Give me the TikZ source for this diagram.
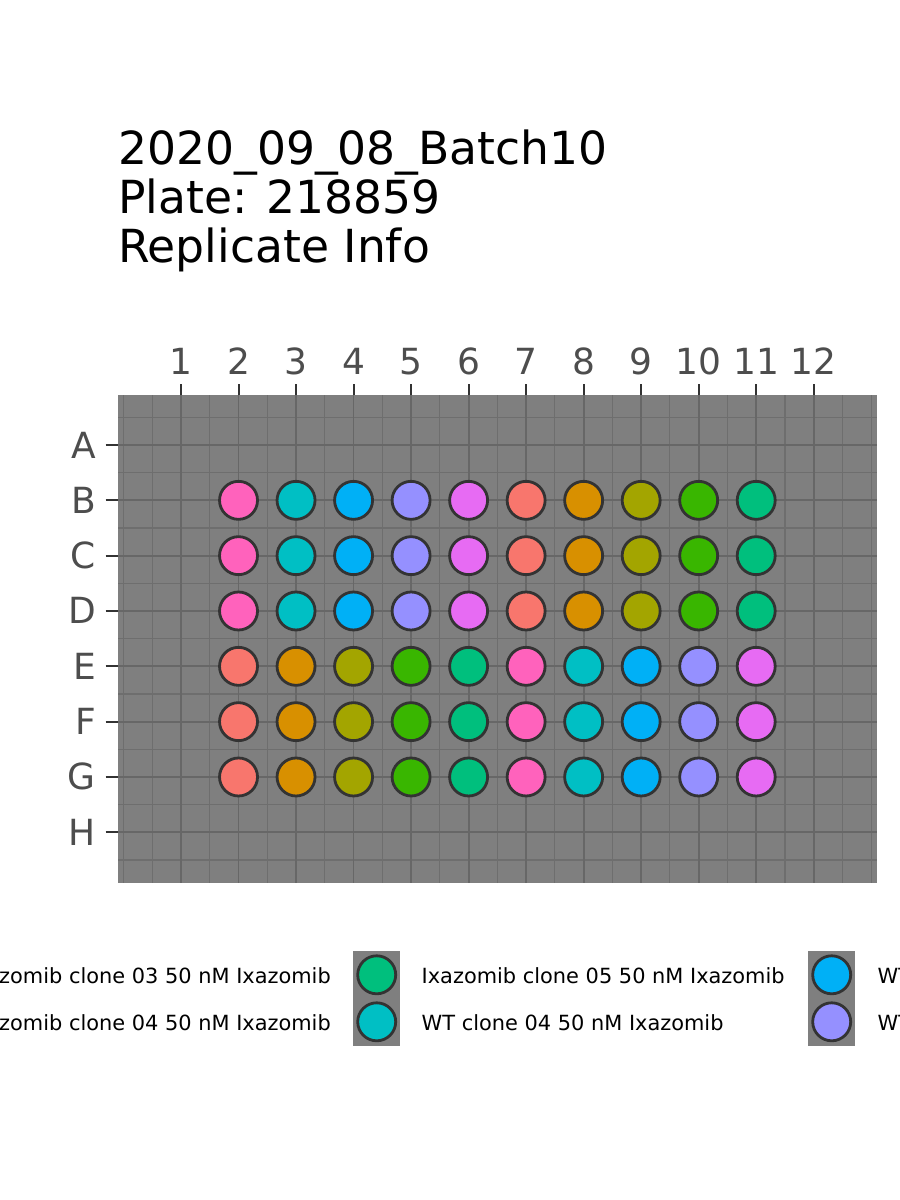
\documentclass[tikz,border=0pt]{standalone}
\usepackage{fontspec}
\setmainfont{DejaVu Sans}
\definecolor{panelc}{HTML}{7F7F7F}
\definecolor{majc}{HTML}{676767}
\definecolor{minc}{HTML}{6E6E6E}
\definecolor{axtext}{HTML}{4D4D4D}
\definecolor{tickc}{HTML}{333333}
\definecolor{rimc}{HTML}{333333}
\definecolor{salmc}{HTML}{F8766D}
\definecolor{orac}{HTML}{D89000}
\definecolor{olivc}{HTML}{A3A500}
\definecolor{greenc}{HTML}{39B600}
\definecolor{emerc}{HTML}{00BF7D}
\definecolor{tealc}{HTML}{00BFC4}
\definecolor{bluec}{HTML}{00B0F6}
\definecolor{lavc}{HTML}{9590FF}
\definecolor{violc}{HTML}{E76BF3}
\definecolor{pinkc}{HTML}{FF62BC}
\tikzset{
  well/.style={circle, draw=rimc, line width=2.8pt, inner sep=0pt, minimum size=38pt},
  titletext/.style={anchor=base west, inner sep=0pt, text=black, font=\fontsize{45.6}{54}\selectfont},
  axislabel/.style={inner sep=0pt, text=axtext, font=\fontsize{36}{42}\selectfont},
  legtext/.style={inner sep=0pt, text=black, font=\fontsize{20.9}{25}\selectfont},
  keybox/.style={rectangle, fill=panelc, inner sep=0pt, minimum width=46.7pt, minimum height=94.7pt},
  tickline/.style={draw=tickc, line width=2pt},
  majgrid/.style={draw=majc, line width=1.8pt},
  mingrid/.style={draw=minc, line width=1.1pt}
}
\begin{document}
\begin{tikzpicture}[x=1pt,y=-1pt]
\useasboundingbox (0,0) rectangle (900,1200);
% title
\node[titletext] (t1) at (118,164.3) {2020\_09\_08\_Batch10};
\node[titletext] (t2) at (118,213.3) {Plate: 218859};
\node[titletext] (t3) at (118,262) {Replicate Info};
% panel
\fill[panelc] (118,395) rectangle (877,883);
\begin{scope}
\clip (118,395) rectangle (877,883);
\foreach \v in {0,0.5,1.5,2.5,3.5,4.5,5.5,6.5,7.5,8.5,9.5,10.5,11.5,12.5,13} {
  \pgfmathsetmacro{\xx}{181+(\v-1)*57.52}
  \draw[mingrid] (\xx,395) -- (\xx,883);
}
\foreach \v in {0.5,1.5,2.5,3.5,4.5,5.5,6.5,7.5,8.5} {
  \pgfmathsetmacro{\yy}{445+(\v-1)*55.33}
  \draw[mingrid] (118,\yy) -- (877,\yy);
}
\foreach \v in {1,...,12} {
  \pgfmathsetmacro{\xx}{181+(\v-1)*57.52}
  \draw[majgrid] (\xx,395) -- (\xx,883);
}
\foreach \v in {1,...,8} {
  \pgfmathsetmacro{\yy}{445+(\v-1)*55.33}
  \draw[majgrid] (118,\yy) -- (877,\yy);
}
\end{scope}
% column ticks and labels
\foreach \v in {1,...,12} {
  \pgfmathsetmacro{\xx}{181+(\v-1)*57.52}
  \coordinate (ct\v) at (\xx,384.3);
  \coordinate (cb\v) at (\xx,395);
  \draw[tickline] (ct\v) -- (cb\v);
  \node[axislabel, anchor=base] (col\v) at (\xx,374.3) {\v};
}
% row ticks and labels
\foreach \r/\rn in {1/A,2/B,3/C,4/D,5/E,6/F,7/G,8/H} {
  \pgfmathsetmacro{\yy}{445+(\r-1)*55.33}
  \coordinate (rl\rn) at (105.7,\yy);
  \coordinate (rr\rn) at (118,\yy);
  \draw[tickline] (rl\rn) -- (rr\rn);
  \node[axislabel, anchor=base east] (row\rn) at (96,\yy+13) {\rn};
}
% wells rows B-D
\foreach \r/\rn in {2/B,3/C,4/D} {
  \foreach \c [count=\i from 2] in {pinkc,tealc,bluec,lavc,violc,salmc,orac,olivc,greenc,emerc} {
    \pgfmathsetmacro{\xx}{181+(\i-1)*57.52}
    \pgfmathsetmacro{\yy}{445+(\r-1)*55.33}
    \node[well, fill=\c] (w\rn\i) at (\xx,\yy) {};
  }
}
% wells rows E-G
\foreach \r/\rn in {5/E,6/F,7/G} {
  \foreach \c [count=\i from 2] in {salmc,orac,olivc,greenc,emerc,pinkc,tealc,bluec,lavc,violc} {
    \pgfmathsetmacro{\xx}{181+(\i-1)*57.52}
    \pgfmathsetmacro{\yy}{445+(\r-1)*55.33}
    \node[well, fill=\c] (w\rn\i) at (\xx,\yy) {};
  }
}
% legend
\node[legtext, anchor=base east] (l1) at (331,983.3) {zomib clone 03 50 nM Ixazomib};
\node[legtext, anchor=base east] (l2) at (331,1030.7) {zomib clone 04 50 nM Ixazomib};
\node[keybox] (k1) at (376.7,998.3) {};
\node[well, fill=emerc] (k1a) at (376.7,974.8) {};
\node[well, fill=tealc] (k1b) at (376.7,1021.8) {};
\node[legtext, anchor=base west] (l3) at (421.5,983.3) {Ixazomib clone 05 50 nM Ixazomib};
\node[legtext, anchor=base west] (l4) at (421.5,1030.7) {WT clone 04 50 nM Ixazomib};
\node[keybox] (k2) at (831.7,998.3) {};
\node[well, fill=bluec] (k2a) at (831.7,974.8) {};
\node[well, fill=lavc] (k2b) at (831.7,1021.8) {};
\node[legtext, anchor=base west] (l5) at (877.5,983.3) {WT};
\node[legtext, anchor=base west] (l6) at (877.5,1030.7) {WT};
\end{tikzpicture}
\end{document}
